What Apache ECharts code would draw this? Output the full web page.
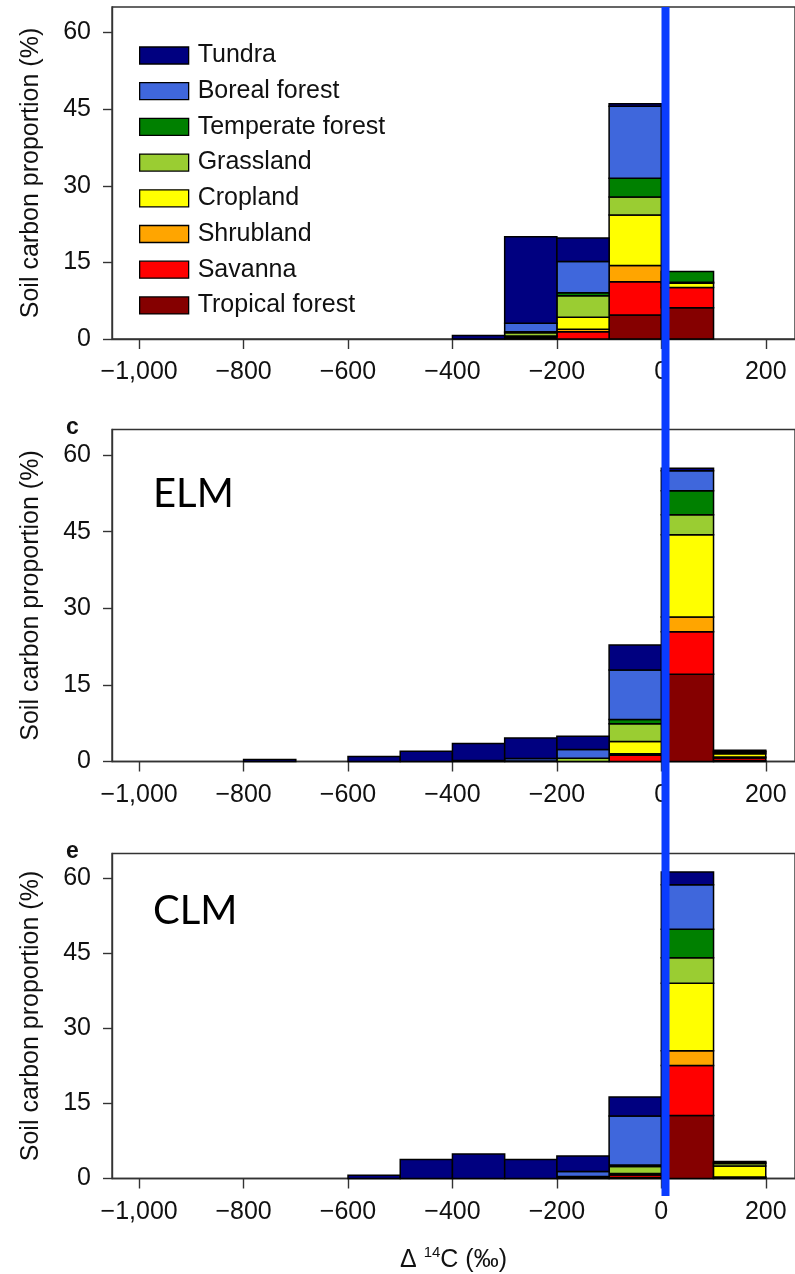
<!DOCTYPE html>
<html>
<head>
<meta charset="utf-8">
<script src="https://cdn.jsdelivr.net/npm/echarts@6/dist/echarts.min.js"></script>
<style>html,body{margin:0;padding:0;background:#fff;}#chart{width:795px;height:1274px;}</style>
</head>
<body>
<div id="chart"></div>
<script>
// ---- data ----
const biomes = ['Tundra','Boreal forest','Temperate forest','Grassland','Cropland','Shrubland','Savanna','Tropical forest'];
const biomeColors = ['#000080','#3f67dc','#008000','#9acd32','#ffff00','#ffa500','#ff0000','#850000'];
const binStarts = [-1000,-900,-800,-700,-600,-500,-400,-300,-200,-100,0,100];
const binWidth = 100;
const xTickValues = [-1000,-800,-600,-400,-200,0,200];
const xTickLabels = ['\u22121,000','\u2212800','\u2212600','\u2212400','\u2212200','0','200'];
const yTickValues = [0,15,30,45,60];
const panelTags = ['', 'c', 'e'];
const panelModels = ['', 'ELM', 'CLM'];
const blueLineX = 8;

// panel a (observations)
const a_tundra    = [0,0,0,0,0,0,0.7,16.9,4.6,0.5,0,0];
const a_boreal    = [0,0,0,0,0,0,0,1.7,6.1,14.1,0,0];
const a_temperate = [0,0,0,0,0,0,0,0.2,0.6,3.65,2.1,0];
const a_grass     = [0,0,0,0,0,0,0,0.6,4.2,3.5,0.2,0];
const a_crop      = [0,0,0,0,0,0,0,0.2,2.35,9.9,0.8,0];
const a_shrub     = [0,0,0,0,0,0,0,0,0.5,3.2,0,0];
const a_savanna   = [0,0,0,0,0,0,0,0.2,1.4,6.5,4.0,0];
const a_tropical  = [0,0,0,0,0,0,0,0.2,0,4.7,6.1,0];
// panel c (ELM)
const c_tundra    = [0,0,0.4,0,1.0,2.0,3.3,4.0,2.6,4.9,0.5,0.2];
const c_boreal    = [0,0,0,0,0,0,0.2,0.5,1.7,9.7,3.9,0];
const c_temperate = [0,0,0,0,0,0,0,0,0,0.8,4.7,0.2];
const c_grass     = [0,0,0,0,0,0,0,0.1,0.65,3.5,3.9,0.3];
const c_crop      = [0,0,0,0,0,0,0,0,0,2.4,16.1,0.6];
const c_shrub     = [0,0,0,0,0,0,0,0,0,0.3,2.9,0.2];
const c_savanna   = [0,0,0,0,0,0,0,0,0,1.2,8.3,0.5];
const c_tropical  = [0,0,0,0,0,0,0,0,0,0,17.1,0.2];
// panel e (CLM)
const e_tundra    = [0,0,0,0,0.65,3.8,4.9,3.8,3.1,3.8,2.55,0.2];
const e_boreal    = [0,0,0,0,0,0,0,0,1.0,9.8,8.9,0];
const e_temperate = [0,0,0,0,0,0,0,0,0,0.3,5.7,0.2];
const e_grass     = [0,0,0,0,0,0,0,0,0.2,1.4,5.1,0.5];
const e_crop      = [0,0,0,0,0,0,0,0,0.1,0.3,13.5,2.2];
const e_shrub     = [0,0,0,0,0,0,0,0,0,0,2.95,0];
const e_savanna   = [0,0,0,0,0,0,0,0,0.1,0.5,10.0,0.1];
const e_tropical  = [0,0,0,0,0,0,0,0,0,0.2,12.6,0.2];

// order: Tundra..Tropical (legend order); stacking is bottom = Tropical
const panels = [
  [a_tundra,a_boreal,a_temperate,a_grass,a_crop,a_shrub,a_savanna,a_tropical],
  [c_tundra,c_boreal,c_temperate,c_grass,c_crop,c_shrub,c_savanna,c_tropical],
  [e_tundra,e_boreal,e_temperate,e_grass,e_crop,e_shrub,e_savanna,e_tropical]
];

// ---- layout ----
const FONT = '"Liberation Sans", Arial, Helvetica, sans-serif';
const gridTops = [7, 429.5, 853.5];
const modelTops = [0, 40, 33];
const gridH = 332;
const gridLeft = 112, gridW = 686;
const xMin = -1052, xMax = 256;

function renderItem(params, api) {
  const p0 = api.coord([api.value(0), api.value(2)]);
  const p1 = api.coord([api.value(1), api.value(3)]);
  return {
    type: 'rect',
    shape: { x: p0[0], y: p1[1], width: p1[0] - p0[0], height: p0[1] - p1[1] },
    style: { fill: api.visual('color'), stroke: '#000', lineWidth: 1.5 }
  };
}

const grids = [], xAxes = [], yAxes = [], series = [], titles = [];
panels.forEach((arrs, pi) => {
  grids.push({ left: gridLeft, top: gridTops[pi], width: gridW, height: gridH,
    show: true, borderColor: '#333', borderWidth: 1.4, backgroundColor: 'transparent' });
  const xa = {
    type: 'value', gridIndex: pi, min: xMin, max: xMax,
    axisLine: { show: true, onZero: false, lineStyle: { color: '#333', width: 1.4 } },
    axisTick: { show: true, length: 10, customValues: xTickValues, lineStyle: { color: '#333', width: 1.4 } },
    axisLabel: { show: true, customValues: xTickValues, margin: 21, color: '#111', fontSize: 25, fontFamily: FONT,
      formatter: v => xTickLabels[xTickValues.indexOf(v)] },
    splitLine: { show: false }
  };
  if (pi === 2) {
    xa.name = '{a|\u0394 }{s|14}{a|C (\u2030)}';
    xa.nameLocation = 'middle';
    xa.nameGap = 67;
    xa.nameTextStyle = { color: '#111', fontFamily: FONT,
      rich: { a: { fontSize: 25, lineHeight: 30, fontFamily: FONT, color: '#111' },
              s: { fontSize: 15, lineHeight: 30, fontFamily: FONT, color: '#111', verticalAlign: 'top', padding: [0,0,12,0] } } };
  }
  xAxes.push(xa);
  yAxes.push({
    type: 'value', gridIndex: pi, min: 0, max: 65,
    name: 'Soil carbon proportion (%)', nameLocation: 'middle', nameGap: 68,
    nameTextStyle: { fontSize: 25, color: '#111', fontFamily: FONT },
    axisLine: { show: true, onZero: false, lineStyle: { color: '#333', width: 1.4 } },
    axisTick: { show: true, length: 9, customValues: yTickValues, lineStyle: { color: '#333', width: 1.4 } },
    axisLabel: { show: true, customValues: yTickValues, margin: 21, color: '#111', fontSize: 25, fontFamily: FONT },
    splitLine: { show: false }
  });
  // stacked cumulative bottoms, Tropical at bottom
  const base = binStarts.map(() => 0);
  for (let bi = biomes.length - 1; bi >= 0; bi--) {
    const vals = arrs[bi];
    const data = [];
    vals.forEach((v, k) => {
      if (v > 0) data.push([binStarts[k], binStarts[k] + binWidth, base[k], base[k] + v]);
      base[k] += v;
    });
    series.push({
      type: 'custom', name: biomes[bi], xAxisIndex: pi, yAxisIndex: pi,
      renderItem, data, encode: { x: [0, 1], y: [2, 3] },
      itemStyle: { color: biomeColors[bi] }, z: 2
    });
  }
  if (panelTags[pi]) {
    titles.push({ text: panelTags[pi], left: 61, top: gridTops[pi] - 18,
      textStyle: { fontSize: 23, fontWeight: 'bold', color: '#111', fontFamily: FONT } });
  }
  if (panelModels[pi]) {
    titles.push({ text: panelModels[pi], left: 148, top: gridTops[pi] + modelTops[pi],
      textStyle: { fontSize: 40, fontWeight: 'normal', color: '#000', fontFamily: 'Lato, "Open Sans", sans-serif' } });
  }
});

// overlay grid for the blue reference line spanning all panels
grids.push({ left: gridLeft, top: 7, width: gridW, height: 1189, show: false });
xAxes.push({ type: 'value', gridIndex: 3, min: xMin, max: xMax, show: false });
yAxes.push({ type: 'value', gridIndex: 3, min: 0, max: 1, show: false });
series.push({
  type: 'line', name: 'ref', xAxisIndex: 3, yAxisIndex: 3,
  data: [[blueLineX, 0], [blueLineX, 1]], symbol: 'none',
  lineStyle: { color: '#0a3cff', width: 8, cap: 'butt' }, z: 10, silent: true
});

const chart = echarts.init(document.getElementById('chart'), null, { renderer: 'canvas' });
chart.setOption({
  animation: false,
  backgroundColor: '#fff',
  title: titles,
  grid: grids, xAxis: xAxes, yAxis: yAxes,
  legend: {
    data: biomes, orient: 'vertical', left: 134, top: 38, icon: 'rect',
    itemWidth: 49, itemHeight: 17, itemGap: 10.7, selectedMode: false,
    itemStyle: { borderColor: '#000', borderWidth: 1.3 },
    textStyle: { fontSize: 25, lineHeight: 25, color: '#111', fontFamily: FONT, padding: [0,0,0,4] }
  },
  series
});
</script>
</body>
</html>
